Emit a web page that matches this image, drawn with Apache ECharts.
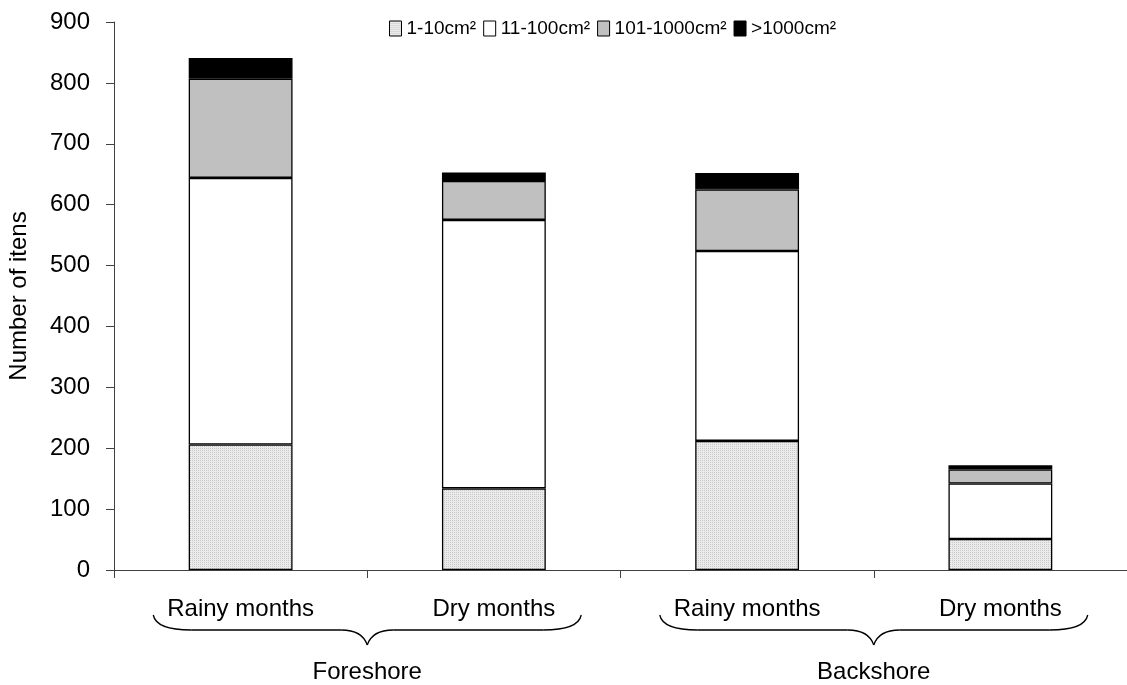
<!DOCTYPE html>
<html>
<head>
<meta charset="utf-8">
<script src="https://cdn.jsdelivr.net/npm/echarts@6/dist/echarts.min.js"></script>
<style>
html,body{margin:0;padding:0;background:#fff;}
#chart{width:1127px;height:685px;}
</style>
</head>
<body>
<div id="chart"></div>
<script>
const categories = ['Rainy months', 'Dry months', 'Rainy months', 'Dry months'];
const groups = ['Foreshore', 'Backshore'];
const seriesNames = ['1-10cm²', '11-100cm²', '101-1000cm²', '>1000cm²'];
const s1to10 = [206, 134, 212, 51];
const s11to100 = [438, 441, 312, 91];
const s101to1000 = [163, 64, 101, 23];
const sOver1000 = [34, 14, 27, 7];
const yTicks = [0, 900, 100];

// stipple pattern for the smallest class
const pc = document.createElement('canvas');
pc.width = 2; pc.height = 2;
const pctx = pc.getContext('2d');
pctx.fillStyle = '#ebebeb'; pctx.fillRect(0, 0, 2, 2);
pctx.fillStyle = '#c8c8c8'; pctx.fillRect(0, 0, 1, 1);

const fills = [{image: pc, repeat: 'repeat'}, '#ffffff', '#c0c0c0', '#000000'];
const values = [s1to10, s11to100, s101to1000, sOver1000];
const FONT = 'Liberation Sans, Arial, sans-serif';

const chart = echarts.init(document.getElementById('chart'), null, {renderer: 'canvas'});
const option = {
  animation: false,
  backgroundColor: '#ffffff',
  textStyle: {fontFamily: FONT, color: '#000'},
  legend: {
    left: 384, top: 14,
    icon: 'rect',
    itemWidth: 12, itemHeight: 15, itemGap: 7,
    textStyle: {fontFamily: FONT, fontSize: 19, color: '#000'},
    itemStyle: {borderColor: '#000', borderWidth: 1},
    data: seriesNames
  },
  grid: {left: 114, right: 0, top: 22, bottom: 115, containLabel: false, outerBoundsMode: 'none'},
  xAxis: [{
    type: 'category',
    data: categories,
    axisLine: {lineStyle: {color: '#404040', width: 1}},
    axisTick: {show: true, length: 8, lineStyle: {color: '#404040'}},
    axisLabel: {fontSize: 24, color: '#000', margin: 27, interval: 0, fontFamily: FONT}
  }, {
    type: 'category',
    data: groups,
    position: 'bottom',
    axisLine: {show: false},
    axisTick: {show: false},
    axisLabel: {fontSize: 24, color: '#000', margin: 90, interval: 0, fontFamily: FONT}
  }],
  yAxis: {
    type: 'value',
    min: yTicks[0], max: yTicks[1], interval: yTicks[2],
    name: 'Number of itens',
    nameLocation: 'middle',
    nameGap: 83,
    nameTextStyle: {fontSize: 24, color: '#000', fontFamily: FONT},
    axisLine: {show: true, lineStyle: {color: '#404040', width: 1}},
    axisTick: {show: true, length: 8, lineStyle: {color: '#404040'}},
    axisLabel: {fontSize: 24, color: '#000', margin: 24, fontFamily: FONT},
    splitLine: {show: false}
  },
  series: seriesNames.map((n, i) => ({
    name: n,
    type: 'bar',
    stack: 'total',
    xAxisIndex: 0,
    barWidth: '41%',
    data: values[i],
    itemStyle: {color: fills[i], borderColor: '#000', borderWidth: 1.3}
  }))
};
chart.setOption(option);

// curly braces under each group of categories
function drawBraces() {
  const c0 = chart.convertToPixel({xAxisIndex: 0}, 0);
  const c1 = chart.convertToPixel({xAxisIndex: 0}, 1);
  const catW = c1 - c0;
  const gfx = [];
  const st = {fill: null, stroke: '#000', lineWidth: 1.3};
  groups.forEach((g, gi) => {
    const cx = chart.convertToPixel({xAxisIndex: 1}, gi);
    const W = catW * 0.845;
    const L = cx - W, R = cx + W;
    const y0 = 615, y1 = 630, y2 = 645;
    gfx.push({type: 'bezierCurve', silent: true, style: st,
      shape: {x1: L, y1: y0, cpx1: L + 3, cpy1: y1, x2: L + 38, y2: y1}});
    gfx.push({type: 'line', silent: true, style: st,
      shape: {x1: L + 38, y1: y1, x2: cx - 26, y2: y1}});
    gfx.push({type: 'bezierCurve', silent: true, style: st,
      shape: {x1: cx - 26, y1: y1, cpx1: cx - 5, cpy1: y1, x2: cx, y2: y2}});
    gfx.push({type: 'bezierCurve', silent: true, style: st,
      shape: {x1: cx, y1: y2, cpx1: cx + 5, cpy1: y1, x2: cx + 26, y2: y1}});
    gfx.push({type: 'line', silent: true, style: st,
      shape: {x1: cx + 26, y1: y1, x2: R - 38, y2: y1}});
    gfx.push({type: 'bezierCurve', silent: true, style: st,
      shape: {x1: R - 38, y1: y1, cpx1: R - 3, cpy1: y1, x2: R, y2: y0}});
  });
  chart.setOption({graphic: gfx});
}
drawBraces();
</script>
</body>
</html>
